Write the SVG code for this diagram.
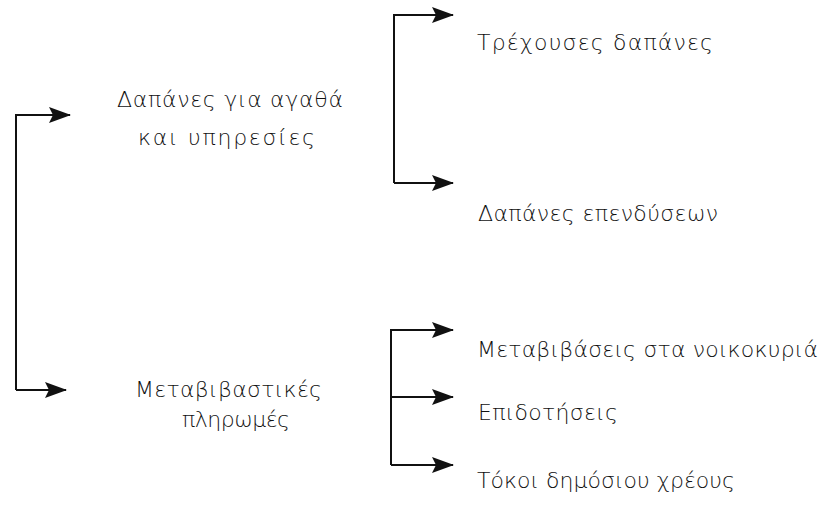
<svg xmlns="http://www.w3.org/2000/svg" width="825" height="509" viewBox="0 0 825 509">
<style>
text{font-family:"DejaVu Sans","Liberation Sans",sans-serif;font-size:22px;fill:#111;font-weight:300}
.ln{stroke:#111;stroke-width:2;fill:none}
</style>
<defs>
<marker id="ah" markerUnits="userSpaceOnUse" markerWidth="24" markerHeight="18" refX="21" refY="9" orient="auto">
<path d="M0,1 L22,9 L0,17 L4,9 Z" fill="#111"/>
</marker>
</defs>
<rect width="825" height="509" fill="#fff"/>
<g id="connectors">
<path class="ln" d="M16,390 V115 H70" marker-end="url(#ah)"/>
<path class="ln" d="M16,390 H66" marker-end="url(#ah)"/>
<path class="ln" d="M394,183 V15 H453" marker-end="url(#ah)"/>
<path class="ln" d="M394,183 H453" marker-end="url(#ah)"/>
<path class="ln" d="M391,465 V330 H453" marker-end="url(#ah)"/>
<path class="ln" d="M391,397 H453" marker-end="url(#ah)"/>
<path class="ln" d="M391,465 H453" marker-end="url(#ah)"/>
</g>
<g id="n-agatha"><text x="117" y="107" textLength="226" lengthAdjust="spacing">Δαπάνες για αγαθά</text><text x="138" y="145" textLength="177" lengthAdjust="spacing">και υπηρεσίες</text></g>
<g id="n-metavivastikes"><text x="135" y="397" textLength="187" lengthAdjust="spacing">Μεταβιβαστικές</text><text x="182" y="427" textLength="108" lengthAdjust="spacing">πληρωμές</text></g>
<g id="n-trexouses"><text x="477" y="50" textLength="236" lengthAdjust="spacing">Τρέχουσες δαπάνες</text></g>
<g id="n-ependyseon"><text x="478" y="221" textLength="240" lengthAdjust="spacing">Δαπάνες επενδύσεων</text></g>
<g id="n-noikokyria"><text x="477" y="357" textLength="341" lengthAdjust="spacing">Μεταβιβάσεις στα νοικοκυριά</text></g>
<g id="n-epidotiseis"><text x="478" y="420" textLength="140" lengthAdjust="spacing">Επιδοτήσεις</text></g>
<g id="n-tokoi"><text x="477" y="488" textLength="258" lengthAdjust="spacing">Τόκοι δημόσιου χρέους</text></g>
</svg>
